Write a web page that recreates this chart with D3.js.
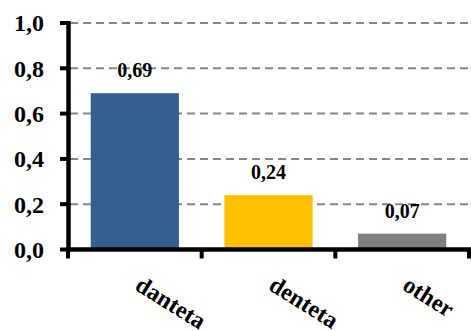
<!DOCTYPE html>
<html>
<head>
<meta charset="utf-8">
<script src="https://cdn.jsdelivr.net/npm/d3@7"></script>
<style>
  html, body { margin: 0; padding: 0; background: #fff; overflow: hidden; }
  svg { display: block; }
</style>
</head>
<body>
<svg id="chart" width="471" height="331"></svg>
<script>
// Share of each form
const categories = ["danteta", "denteta", "other"];
const values = [0.69, 0.24, 0.07];
const barColors = ["#365F91", "#FFC000", "#808080"];
const yTicks = [0, 0.2, 0.4, 0.6, 0.8, 1.0];

const svg = d3.select("#chart");
const W = 471;
const fontFamily = "'Liberation Serif', 'Times New Roman', serif";
const fmt = v => d3.format(".1f")(v).replace(".", ",");
const fmt2 = v => d3.format(".2f")(v).replace(".", ",");

const x = d3.scaleBand()
  .domain(categories)
  .range([68, 469])
  .paddingInner(0.34)
  .paddingOuter(0.17);

const y = d3.scaleLinear().domain([0, 1]).range([249.5, 23]);

// dashed gridlines
svg.append("g")
  .selectAll("line")
  .data(yTicks.filter(t => t > 0))
  .join("line")
  .attr("x1", 70)
  .attr("x2", W)
  .attr("y1", d => y(d))
  .attr("y2", d => y(d))
  .attr("stroke", "#868686")
  .attr("stroke-width", 2)
  .attr("stroke-dasharray", "8,5");

// bars
svg.append("g")
  .selectAll("rect")
  .data(categories)
  .join("rect")
  .attr("x", d => x(d))
  .attr("width", x.bandwidth())
  .attr("y", (d, i) => y(values[i]))
  .attr("height", (d, i) => y(0) - y(values[i]))
  .attr("fill", (d, i) => barColors[i]);

// value labels
svg.append("g")
  .selectAll("text")
  .data(categories)
  .join("text")
  .attr("x", d => x(d) + x.bandwidth() / 2)
  .attr("y", (d, i) => y(values[i]) - 16)
  .attr("text-anchor", "middle")
  .attr("font-family", fontFamily)
  .attr("font-weight", "bold")
  .attr("font-size", 20)
  .attr("fill", "#000")
  .text((d, i) => fmt2(values[i]));

// y axis
const yAxis = svg.append("g");
yAxis.append("line")
  .attr("x1", 68.5).attr("x2", 68.5)
  .attr("y1", y(1) - 2).attr("y2", y(0) + 2)
  .attr("stroke", "#000").attr("stroke-width", 4.5);
yAxis.selectAll("line.tick")
  .data(yTicks)
  .join("line")
  .attr("class", "tick")
  .attr("x1", 60).attr("x2", 70)
  .attr("y1", d => y(d)).attr("y2", d => y(d))
  .attr("stroke", "#000").attr("stroke-width", 4);
yAxis.selectAll("text")
  .data(yTicks)
  .join("text")
  .attr("x", 44)
  .attr("y", d => y(d))
  .attr("dy", "0.35em")
  .attr("text-anchor", "end")
  .attr("font-family", fontFamily)
  .attr("font-weight", "bold")
  .attr("font-size", 24)
  .attr("fill", "#000")
  .text(d => fmt(d));

// x axis
const xAxis = svg.append("g");
const r = x.range();
xAxis.append("line")
  .attr("x1", 66).attr("x2", r[1] + 2)
  .attr("y1", y(0)).attr("y2", y(0))
  .attr("stroke", "#000").attr("stroke-width", 4.5);
const boundaries = d3.range(categories.length + 1).map(i => r[0] + i * x.step());
xAxis.selectAll("line.tick")
  .data(boundaries)
  .join("line")
  .attr("class", "tick")
  .attr("x1", d => d).attr("x2", d => d)
  .attr("y1", y(0)).attr("y2", y(0) + 9)
  .attr("stroke", "#000").attr("stroke-width", 4);
xAxis.selectAll("text")
  .data(categories)
  .join("text")
  .attr("transform", d => `translate(${x(d) + x.bandwidth() / 2 - 1},${289}) rotate(32)`)
  .attr("text-anchor", "start")
  .attr("font-family", fontFamily)
  .attr("font-weight", "bold")
  .attr("font-size", 24)
  .attr("fill", "#000")
  .text(d => d);
</script>
</body>
</html>
